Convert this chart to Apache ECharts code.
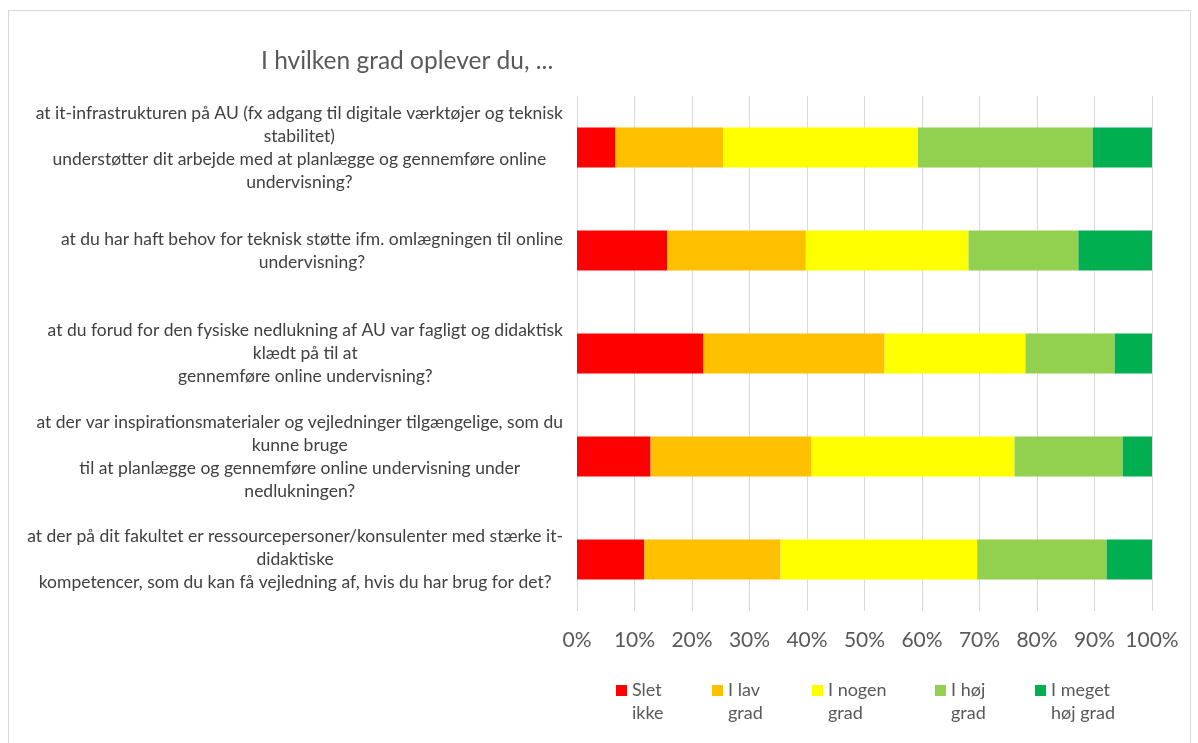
<!DOCTYPE html>
<html>
<head>
<meta charset="utf-8">
<script src="https://cdn.jsdelivr.net/npm/echarts@6/dist/echarts.min.js"></script>
<style>
  html, body { margin: 0; padding: 0; background: #ffffff; }
  .frame {
    position: absolute; left: 8px; top: 10px;
    width: 1181px; height: 760px;
    border: 1px solid #d9d9d9;
  }
  #chart { position: absolute; left: 0; top: 0; width: 1198px; height: 743px; }
</style>
</head>
<body>
<div class="frame"></div>
<div id="chart"></div>
<script>
// spørgsmål (kategorier), linjeskift som i originalen
const questions = [
  'at it-infrastrukturen på AU (fx adgang til digitale værktøjer og teknisk\nstabilitet)\nunderstøtter dit arbejde med at planlægge og gennemføre online\nundervisning?',
  'at du har haft behov for teknisk støtte ifm. omlægningen til online\nundervisning?',
  'at du forud for den fysiske nedlukning af AU var fagligt og didaktisk\nklædt på til at\ngennemføre online undervisning?',
  'at der var inspirationsmaterialer og vejledninger tilgængelige, som du\nkunne bruge\ntil at planlægge og gennemføre online undervisning under\nnedlukningen?',
  'at der på dit fakultet er ressourcepersoner/konsulenter med stærke it-\ndidaktiske\nkompetencer, som du kan få vejledning af, hvis du har brug for det?'
];

// andele i procent
const sletIkke   = [6.7, 15.7, 22.0, 12.8, 11.7];
const iLavGrad   = [18.7, 24.1, 31.5, 28.0, 23.7];
const iNogenGrad = [33.9, 28.3, 24.5, 35.3, 34.2];
const iHoejGrad  = [30.4, 19.1, 15.5, 18.8, 22.5];
const iMegetHoej = [10.3, 12.8, 6.5, 5.1, 7.9];

const seriesNames = ['Slet ikke', 'I lav grad', 'I nogen grad', 'I høj grad', 'I meget høj grad'];
// tom første linje, så ikonet står ud for første tekstlinje
const legendLabels = ['\nSlet\nikke', '\nI lav\ngrad', '\nI nogen\ngrad', '\nI høj\ngrad', '\nI meget\nhøj grad'];
const colors = ['#FF0000', '#FFC000', '#FFFF00', '#92D050', '#00B050'];
const values = [sletIkke, iLavGrad, iNogenGrad, iHoejGrad, iMegetHoej];

const font = 'Lato, "Open Sans", sans-serif';
const legendWidths = [80, 84, 107, 84, 84];

const option = {
  animation: false,
  color: colors,
  title: {
    text: 'I hvilken grad oplever du, ...',
    left: 256,
    top: 44,
    textStyle: { color: '#595959', fontSize: 24.5, fontWeight: 'normal', fontFamily: font }
  },
  legend: {
    left: 611,
    top: 651,
    itemWidth: 11,
    itemHeight: 11,
    itemGap: 0,
    icon: 'rect',
    selectedMode: false,
    data: seriesNames.map(function (n, i) {
      return { name: n, textStyle: { width: legendWidths[i] } };
    }),
    formatter: function (name) {
      return legendLabels[seriesNames.indexOf(name)];
    },
    textStyle: { color: '#595959', fontSize: 18, lineHeight: 23, fontFamily: font }
  },
  grid: {
    left: 577,
    right: 46,
    top: 96,
    bottom: 132,
    outerBoundsMode: 'none'
  },
  xAxis: {
    type: 'value',
    min: 0,
    max: 100,
    interval: 10,
    axisLine: { show: false },
    axisTick: { show: false },
    splitLine: { lineStyle: { color: '#d9d9d9', width: 1 } },
    axisLabel: {
      formatter: '{value}%',
      color: '#595959', fontSize: 21, fontFamily: font, margin: 19
    }
  },
  yAxis: {
    type: 'category',
    inverse: true,
    data: questions,
    axisLine: { show: false },
    axisTick: { show: false },
    axisLabel: {
      interval: 0,
      margin: 14,
      formatter: function (v) { return '{c|' + v + '}'; },
      rich: {
        c: { align: 'center', fontSize: 17.5, lineHeight: 23, color: '#404040', fontFamily: font }
      }
    }
  },
  series: seriesNames.map(function (n, i) {
    return {
      name: n,
      type: 'bar',
      stack: 'total',
      barWidth: 40,
      data: values[i],
      itemStyle: { color: colors[i] }
    };
  })
};

const myChart = echarts.init(document.getElementById('chart'));
myChart.setOption(option);
</script>
</body>
</html>
